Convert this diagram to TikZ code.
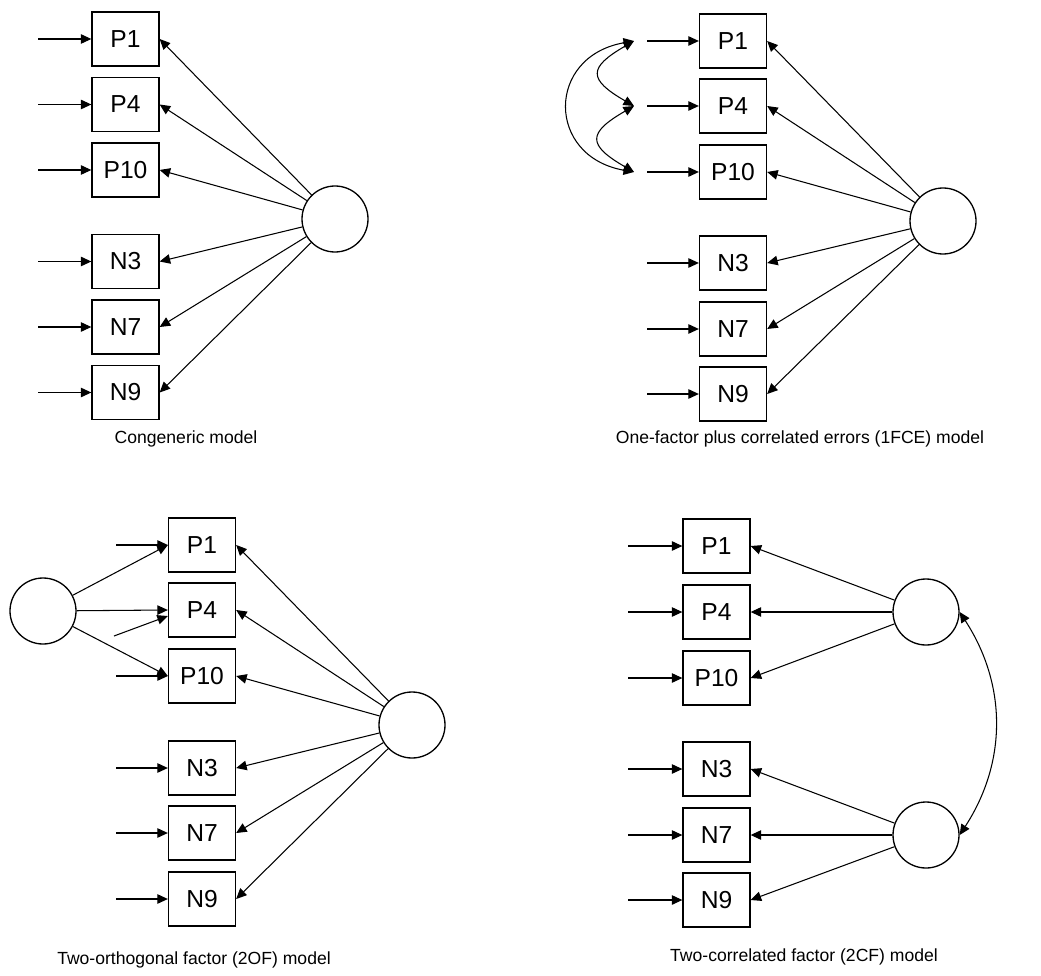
\documentclass[tikz,border=0pt]{standalone}
\usepackage{fontspec}
\setmainfont{Liberation Sans}
\usetikzlibrary{arrows.meta}

\begin{document}
\begin{tikzpicture}[
    >={Triangle[length=2.1mm, width=1.9mm]},
    line width=0.6pt,
    item/.style={draw, rectangle, line width=0.75pt, minimum width=1.34cm, minimum height=1.08cm, inner sep=0cm, font=\fontsize{14}{16}\selectfont},
    factor/.style={draw, circle, line width=0.75pt, minimum size=1.32cm, inner sep=0cm},
    caption/.style={font=\fontsize{10}{12}\selectfont}
]
            \useasboundingbox (0, 0) rectangle (20.82, 19.5);

            % congeneric model
            \node[item] (cgP1) at (2.51, 18.72) {P1};
            \node[item] (cgP4) at (2.51, 17.41) {P4};
            \node[item] (cgP10) at (2.51, 16.10) {P10};
            \node[item] (cgN3) at (2.51, 14.27) {N3};
            \node[item] (cgN7) at (2.51, 12.96) {N7};
            \node[item] (cgN9) at (2.51, 11.65) {N9};
            \node[factor] (cgF) at (6.70, 15.12) {};

            \coordinate (cgE1) at (0.76, 18.72);
            \coordinate (cgE4) at (0.76, 17.41);
            \coordinate (cgE10) at (0.76, 16.10);
            \coordinate (cgE3) at (0.76, 14.27);
            \coordinate (cgE7) at (0.76, 12.96);
            \coordinate (cgE9) at (0.76, 11.65);

            \draw[->] (cgE1)--(cgP1);
            \draw[->] (cgE4)--(cgP4);
            \draw[->] (cgE10)--(cgP10);
            \draw[->] (cgE3)--(cgN3);
            \draw[->] (cgE7)--(cgN7);
            \draw[->] (cgE9)--(cgN9);

            \draw[->] (cgF)--(cgP1.east);
            \draw[->] (cgF)--(cgP4.east);
            \draw[->] (cgF)--(cgP10.east);
            \draw[->] (cgF)--(cgN3.east);
            \draw[->] (cgF)--(cgN7.east);
            \draw[->] (cgF)--(cgN9.east);

            \node[caption] at (3.72, 10.73) {Congeneric model};

            % one-factor plus correlated errors
            \node[item] (ceP1) at (14.66, 18.68) {P1};
            \node[item] (ceP4) at (14.66, 17.38) {P4};
            \node[item] (ceP10) at (14.66, 16.06) {P10};
            \node[item] (ceN3) at (14.66, 14.24) {N3};
            \node[item] (ceN7) at (14.66, 12.92) {N7};
            \node[item] (ceN9) at (14.66, 11.62) {N9};
            \node[factor] (ceF) at (18.86, 15.08) {};

            \coordinate (ceE1) at (12.94, 18.68);
            \coordinate (ceE4) at (12.94, 17.38);
            \coordinate (ceE10) at (12.94, 16.06);
            \coordinate (ceE3) at (12.94, 14.24);
            \coordinate (ceE7) at (12.94, 12.92);
            \coordinate (ceE9) at (12.94, 11.62);
            \coordinate (ceC1) at (12.68, 18.68);
            \coordinate (ceC4) at (12.68, 17.38);
            \coordinate (ceC10) at (12.68, 16.06);

            \draw[->] (ceE1)--(ceP1);
            \draw[->] (ceE4)--(ceP4);
            \draw[->] (ceE10)--(ceP10);
            \draw[->] (ceE3)--(ceN3);
            \draw[->] (ceE7)--(ceN7);
            \draw[->] (ceE9)--(ceN9);

            \draw[->] (ceF)--(ceP1.east);
            \draw[->] (ceF)--(ceP4.east);
            \draw[->] (ceF)--(ceP10.east);
            \draw[->] (ceF)--(ceN3.east);
            \draw[->] (ceF)--(ceN7.east);
            \draw[->] (ceF)--(ceN9.east);

            \draw[<->] (ceC1) to[out=210, in=150, looseness=2.1] (ceC4);
            \draw[<->] (ceC4) to[out=210, in=150, looseness=2.1] (ceC10);
            \draw[<->] (ceC1) to[out=190, in=170, looseness=1.75] (ceC10);

            \node[caption] at (16.0, 10.73) {One-factor plus correlated errors (1FCE) model};

            % two-orthogonal factor
            \node[item] (ofP1) at (4.04, 8.60) {P1};
            \node[item] (ofP4) at (4.04, 7.30) {P4};
            \node[item] (ofP10) at (4.04, 5.98) {P10};
            \node[item] (ofN3) at (4.04, 4.14) {N3};
            \node[item] (ofN7) at (4.04, 2.84) {N7};
            \node[item] (ofN9) at (4.04, 1.52) {N9};
            \node[factor] (ofF1) at (0.86, 7.28) {};
            \node[factor] (ofF2) at (8.24, 5.00) {};

            \coordinate (ofE1) at (2.32, 8.60);
            \coordinate (ofE4) at (2.28, 6.78);
            \coordinate (ofE10) at (2.32, 5.98);
            \coordinate (ofE3) at (2.32, 4.14);
            \coordinate (ofE7) at (2.32, 2.84);
            \coordinate (ofE9) at (2.32, 1.52);

            \draw[->] (ofE1)--(ofP1);
            \draw[->] (ofE4)--(ofP4.190);
            \draw[->] (ofE10)--(ofP10);
            \draw[->] (ofE3)--(ofN3);
            \draw[->] (ofE7)--(ofN7);
            \draw[->] (ofE9)--(ofN9);

            \draw[->] (ofF1)--(ofP1.west);
            \draw[->] (ofF1)--(ofP4.west);
            \draw[->] (ofF1)--(ofP10.west);

            \draw[->] (ofF2)--(ofP1.east);
            \draw[->] (ofF2)--(ofP4.east);
            \draw[->] (ofF2)--(ofP10.east);
            \draw[->] (ofF2)--(ofN3.east);
            \draw[->] (ofF2)--(ofN7.east);
            \draw[->] (ofF2)--(ofN9.east);

            \node[caption] at (3.88, 0.30) {Two-orthogonal factor (2OF) model};

            % two-correlated factor
            \node[item] (cfP1) at (14.33, 8.58) {P1};
            \node[item] (cfP4) at (14.33, 7.26) {P4};
            \node[item] (cfP10) at (14.33, 5.94) {P10};
            \node[item] (cfN3) at (14.33, 4.12) {N3};
            \node[item] (cfN7) at (14.33, 2.80) {N7};
            \node[item] (cfN9) at (14.33, 1.50) {N9};
            \node[factor] (cfF1) at (18.52, 7.26) {};
            \node[factor] (cfF2) at (18.52, 2.80) {};

            \coordinate (cfE1) at (12.56, 8.58);
            \coordinate (cfE4) at (12.56, 7.26);
            \coordinate (cfE10) at (12.56, 5.94);
            \coordinate (cfE3) at (12.56, 4.12);
            \coordinate (cfE7) at (12.56, 2.80);
            \coordinate (cfE9) at (12.56, 1.50);

            \draw[->] (cfE1)--(cfP1);
            \draw[->] (cfE4)--(cfP4);
            \draw[->] (cfE10)--(cfP10);
            \draw[->] (cfE3)--(cfN3);
            \draw[->] (cfE7)--(cfN7);
            \draw[->] (cfE9)--(cfN9);

            \draw[->] (cfF1)--(cfP1.east);
            \draw[->] (cfF1)--(cfP4.east);
            \draw[->] (cfF1)--(cfP10.east);
            \draw[->] (cfF2)--(cfN3.east);
            \draw[->] (cfF2)--(cfN7.east);
            \draw[->] (cfF2)--(cfN9.east);

            \draw[<->] (cfF1.east) to[bend left=33] (cfF2.east);

            \node[caption] at (16.08, 0.36) {Two-correlated factor (2CF) model};
\end{tikzpicture}
\end{document}
